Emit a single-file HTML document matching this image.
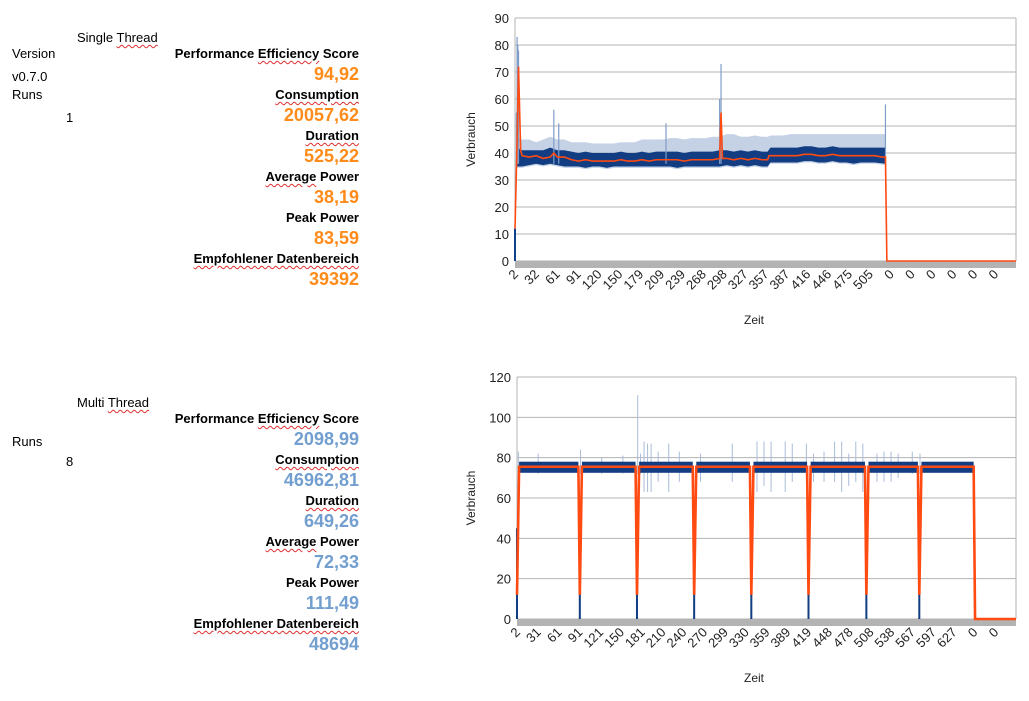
<!DOCTYPE html>
<html><head><meta charset="utf-8">
<style>
body{margin:0;width:1029px;height:701px;background:#fff;position:relative;overflow:hidden;font-family:"Liberation Sans",sans-serif;color:#000}
.t{position:absolute;font-size:13px;line-height:15px;white-space:nowrap}
.l{position:absolute;right:670px;font-size:13px;font-weight:bold;line-height:15px;white-space:nowrap}
.v{position:absolute;right:670px;font-size:18px;font-weight:bold;line-height:20px;white-space:nowrap}
.o{color:#ff8c1a}.b{color:#729fcf}
.sp{text-decoration:underline wavy #e03030;text-decoration-thickness:1px;text-underline-offset:2px}
svg{position:absolute;left:0;top:0}
</style></head><body>
<div class="t" style="left:77px;top:30px">Single <span class="sp">Thread</span></div>
<div class="t" style="left:12px;top:46px">Version</div>
<div class="t" style="left:12px;top:69px">v0.7.0</div>
<div class="t" style="left:12px;top:87px">Runs</div>
<div class="t" style="left:66px;top:110px">1</div>
<div class="l" style="top:46px">Performance <span class="sp">Efficiency</span> Score</div>
<div class="v o" style="top:64px">94,92</div>
<div class="l" style="top:87px"><span class="sp">Consumption</span></div>
<div class="v o" style="top:105px">20057,62</div>
<div class="l" style="top:128px"><span class="sp">Duration</span></div>
<div class="v o" style="top:146px">525,22</div>
<div class="l" style="top:169px"><span class="sp">Average</span> Power</div>
<div class="v o" style="top:187px">38,19</div>
<div class="l" style="top:210px">Peak Power</div>
<div class="v o" style="top:228px">83,59</div>
<div class="l" style="top:251px"><span class="sp">Empfohlener Datenbereich</span></div>
<div class="v o" style="top:269px">39392</div>

<div class="t" style="left:77px;top:395px">Multi <span class="sp">Thread</span></div>
<div class="t" style="left:12px;top:434px">Runs</div>
<div class="t" style="left:66px;top:454px">8</div>
<div class="l" style="top:411px">Performance <span class="sp">Efficiency</span> Score</div>
<div class="v b" style="top:429px">2098,99</div>
<div class="l" style="top:452px"><span class="sp">Consumption</span></div>
<div class="v b" style="top:470px">46962,81</div>
<div class="l" style="top:493px"><span class="sp">Duration</span></div>
<div class="v b" style="top:511px">649,26</div>
<div class="l" style="top:534px"><span class="sp">Average</span> Power</div>
<div class="v b" style="top:552px">72,33</div>
<div class="l" style="top:575px">Peak Power</div>
<div class="v b" style="top:593px">111,49</div>
<div class="l" style="top:616px"><span class="sp">Empfohlener Datenbereich</span></div>
<div class="v b" style="top:634px">48694</div>

<svg id="svg" width="1029" height="701"></svg>
<script>
// ---- Chart 1 (Single Thread) data ----
const ticks1 = ["2","32","61","91","120","150","179","209","239","268","298","327","357","387","416","446","475","505","0","0","0","0","0","0"];
const yTicks1 = [0,10,20,30,40,50,60,70,80,90];
const avg1X = [0,3,5,8,10,20,30,40,50,55,60,70,80,90,100,110,120,130,140,150,160,170,180,190,200,210,220,230,240,250,260,270,280,290,292,294,300,310,320,330,340,350,358,360,370,380,390,400,410,420,430,440,450,460,470,480,490,500,510,520,525,527,710];
const avg1Y = [12,45,72,41,39,38.5,39,38,38.5,40,38.5,38.5,37.5,37,37.5,37,37,37,37,37.5,37,37,37.5,37,37.5,37.5,37.5,37.5,37,37.5,37.5,37.5,37.5,38,55,38,38,37.5,38,37.5,38,37.5,37.5,39,39,39,39,39,39.5,39.5,39,39,39.5,39,39,39,39,39,39,38.5,38.5,0,0];
const band1X = [3,10,20,30,40,50,60,70,80,90,100,110,120,130,140,150,160,170,180,190,200,210,220,230,240,250,260,270,280,290,300,310,320,330,340,350,358,362,370,380,390,400,410,420,430,440,450,460,470,480,490,500,510,525];
const band1Low = [35,35,35.5,36,35.5,36,35.5,35,35,35,34.5,35,35,34.5,35,35,35,35,35,35,35,35,35,34.5,35,35,35,35,35,35,35.5,35,35.5,35,35.5,35,35,36.5,36.5,36.5,36.5,36.5,37,37,36.5,36.5,37,36.5,36.5,36,36.5,36.5,36.5,36];
const band1High = [42,41,41,41,41,42,41,41,40.5,40,40.5,40,40,40,40,40.5,40,40,40.5,40,40.5,40.5,40.5,40.5,40,40.5,40.5,40.5,40.5,41,41,40.5,41,40.5,41,40.5,40.5,42,42,42,42,42,42.5,42.5,42,42,42.5,42,42,42,42,42,42,42];
const light1High = [46,45,45,44,45,46,45,45,44,44,44,43.5,43.5,43.5,43.5,44,44,44,45,45,45,45,45.5,45.5,45,45.5,45.5,45.5,46,46,47,47,46,46,46.5,46,46,46.5,46.5,46.5,47,47,47,47,47,47,47,47,47,47,47,47,47,47];
const spike1X = [2,3,4,5,55,62,214,290,292,525];
const spike1Y = [55,83,80,78,56,51,51,60,73,58];

// ---- Chart 2 (Multi Thread) data ----
const ticks2 = ["2","31","61","91","121","150","181","210","240","270","299","330","359","389","419","448","478","508","538","567","597","627","0","0"];
const yTicks2 = [0,20,40,60,80,100,120];
const avg2X = [0,3,87,89,92,168,170,173,249,251,254,330,332,335,411,413,416,493,495,498,568,570,573,647,649,707];
const avg2Y = [12,75.5,75.5,12,75.5,75.5,12,75.5,75.5,12,75.5,75.5,12,75.5,75.5,12,75.5,75.5,12,75.5,75.5,12,75.5,75.5,0,0];
const runStart2 = [3,92,173,254,335,416,498,573];
const runEnd2 = [87,168,249,330,411,493,568,647];
const runLow2 = [72.5,72.5,72.5,72.5,72.5,72.5,72.5,72.5];
const runHigh2 = [78,78,78,78,78,78,78,78];
const dip2X = [0,89,170,251,332,413,495,570];
const dip2Y = [0,0,0,0,0,0,0,0];
const spike2X = [2,30,90,120,150,171,175,180,185,190,200,215,230,260,305,340,350,360,380,390,410,420,435,450,460,470,480,490,510,520,530,540,560,571];
const spike2Y = [83,82,84,80,81,111,82,88,87,87,83,87,83,82,87,88,88,88,88,87,87,82,83,88,88,82,88,87,82,83,83,82,83,82];
const spike2Low = [72,72,72,72,72,72,72,63,63,63,68,63,68,68,68,63,66,63,63,68,68,68,68,68,63,66,68,63,68,68,68,70,72,72];

const NS = "http://www.w3.org/2000/svg";
const svg = document.getElementById('svg');
function mk(tag, attrs, parent){const e=document.createElementNS(NS,tag);for(const k in attrs)e.setAttribute(k,attrs[k]);(parent||svg).appendChild(e);return e;}

function chart(c){
  const g = mk('g',{});
  
  
  const sx = v => c.left + v/c.N*(c.right-c.left);
  const sy = v => c.bottom - v/c.ymax*(c.bottom-c.top);
  c.yTicks.forEach(t=>{
    const l = mk('line',{x1:c.left,x2:c.right,y1:sy(t),y2:sy(t),stroke:'#b3b3b3','stroke-width':1},g);
    
    
    const tx = mk('text',{x:c.left-6,y:sy(t)+5,'text-anchor':'end','font-size':13,fill:'#222','font-family':'Liberation Sans, sans-serif'},g);
    tx.textContent = t;
    
    
  });
  mk('line',{x1:c.right,x2:c.right,y1:c.top,y2:c.bottom,stroke:'#b3b3b3'},g);
  mk('line',{x1:c.left,x2:c.left,y1:c.top,y2:c.bottom,stroke:'#b3b3b3'},g);
  const bar = mk('rect',{x:c.left,y:c.bottom,width:c.right-c.left,height:7,fill:'#b3b3b3'},g);
  
  
  const step = c.N / c.ticks.length;
  c.ticks.forEach((t,i)=>{
    const x = sx(i*step)+4, y = c.bottom+14;
    const tx = mk('text',{x:x,y:y,'text-anchor':'end','font-size':13,fill:'#222','font-family':'Liberation Sans, sans-serif',transform:`rotate(-45 ${x} ${y})`},g);
    tx.textContent = t;
    
    
  });
  const yt = mk('text',{x:c.yTitleX,y:(c.top+c.bottom)/2,'text-anchor':'middle','font-size':12,fill:'#222','font-family':'Liberation Sans, sans-serif',transform:`rotate(-90 ${c.yTitleX} ${(c.top+c.bottom)/2})`},g);
  yt.textContent='Verbrauch';
  
  
  const xt = mk('text',{x:754,y:c.xTitleY,'text-anchor':'middle','font-size':12,fill:'#222','font-family':'Liberation Sans, sans-serif'},g);
  xt.textContent='Zeit';
  
  
  return {g,sx,sy};
}

// Chart 1
(function(){
  const c = {name:'single-thread-chart',left:515,right:1016,top:18,bottom:261,N:710,ymax:90,yTicks:yTicks1,ticks:ticks1,yTitleX:475,xTitleY:324};
  const {g,sx,sy} = chart(c);
  let p1='', p2='';
  band1X.forEach((x,i)=>{p1+=(i?'L':'M')+sx(x)+','+sy(light1High[i]);});
  for(let i=band1X.length-1;i>=0;i--) p1+='L'+sx(band1X[i])+','+sy(band1Low[i]-0.5);
  const lb = mk('path',{d:p1+'Z',fill:'#7f9cc8',opacity:0.45},g);
  
  
  band1X.forEach((x,i)=>{p2+=(i?'L':'M')+sx(x)+','+sy(band1High[i]);});
  for(let i=band1X.length-1;i>=0;i--) p2+='L'+sx(band1X[i])+','+sy(band1Low[i]);
  const db = mk('path',{d:p2+'Z',fill:'#123d82'},g);
  
  
  spike1X.forEach((x,i)=>{
    const s = mk('line',{x1:sx(x),x2:sx(x),y1:sy(spike1Y[i]),y2:sy(36),stroke:'#7f9cc8','stroke-width':1.2},g);
    
    
  });
  mk('line',{x1:sx(0),x2:sx(0),y1:sy(0),y2:sy(12),stroke:'#0f3f8c','stroke-width':2},g);
  const pts = avg1X.map((x,i)=>sx(x)+','+sy(avg1Y[i])).join(' ');
  const ln = mk('polyline',{points:pts,fill:'none',stroke:'#ff4a12','stroke-width':1.6},g);
  
  
})();

// Chart 2
(function(){
  const c = {name:'multi-thread-chart',left:517,right:1016,top:377,bottom:619,N:707,ymax:120,yTicks:yTicks2,ticks:ticks2,yTitleX:475,xTitleY:682};
  const {g,sx,sy} = chart(c);
  spike2X.forEach((x,i)=>{
    const s = mk('line',{x1:sx(x),x2:sx(x),y1:sy(spike2Y[i]),y2:sy(spike2Low[i]),stroke:'#a9bcd8','stroke-width':1},g);
    
    
  });
  runStart2.forEach((s,i)=>{
    const r = mk('rect',{x:sx(s),y:sy(runHigh2[i]),width:sx(runEnd2[i])-sx(s),height:sy(runLow2[i])-sy(runHigh2[i]),fill:'#123d82'},g);
    
    
  });
  dip2X.forEach((x,i)=>{
    const d = mk('line',{x1:sx(x),x2:sx(x),y1:sy(dip2Y[i]),y2:sy(45),stroke:'#123d82','stroke-width':2},g);
    
    
  });
  const pts = avg2X.map((x,i)=>sx(x)+','+sy(avg2Y[i])).join(' ');
  const ln = mk('polyline',{points:pts,fill:'none',stroke:'#ff4a12','stroke-width':2.6},g);
  
  
})();
</script>
</body></html>
